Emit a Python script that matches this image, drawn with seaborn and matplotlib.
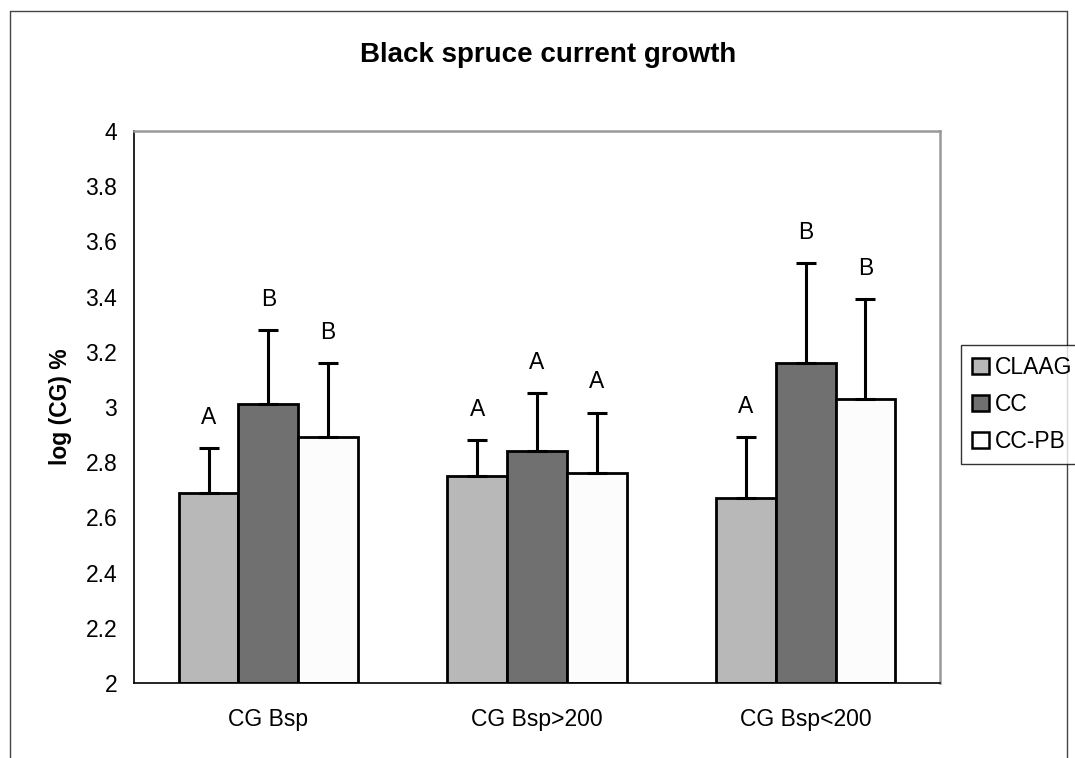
import matplotlib
matplotlib.use("Agg")
import matplotlib.pyplot as plt
import seaborn as sns
import pandas as pd
from matplotlib.lines import Line2D
from matplotlib.ticker import FixedLocator

# ---- data ----
categories = ["CG Bsp", "CG Bsp>200", "CG Bsp<200"]
treatments = ["CLAAG", "CC", "CC-PB"]
claag_mean = [2.69, 2.75, 2.67]
cc_mean = [3.01, 2.84, 3.16]
ccpb_mean = [2.89, 2.76, 3.03]
claag_err = [0.16, 0.13, 0.22]
cc_err = [0.27, 0.21, 0.36]
ccpb_err = [0.27, 0.22, 0.36]
claag_letters = ["A", "A", "A"]
cc_letters = ["B", "A", "B"]
ccpb_letters = ["B", "A", "B"]
y_ticks = [2, 2.2, 2.4, 2.6, 2.8, 3, 3.2, 3.4, 3.6, 3.8, 4]

means = [claag_mean, cc_mean, ccpb_mean]
errs = [claag_err, cc_err, ccpb_err]
letters = [claag_letters, cc_letters, ccpb_letters]

rows = []
for t, m in zip(treatments, means):
    for c, v in zip(categories, m):
        rows.append({"category": c, "treatment": t, "value": v})
df = pd.DataFrame(rows)

palette = {"CLAAG": "#b8b8b8", "CC": "#707070", "CC-PB": "#fcfcfc"}

sns.set_style("white")
plt.rcParams["font.family"] = ["Liberation Sans", "DejaVu Sans"]
for key in ["text.color", "axes.labelcolor", "xtick.color", "ytick.color"]:
    plt.rcParams[key] = "black"

FS = 16.5

fig = plt.figure(figsize=(10.75, 7.58), dpi=100)
ax = fig.add_axes([134 / 1075, 75 / 758, (940 - 134) / 1075, (683 - 131) / 758])

sns.barplot(data=df, x="category", y="value", hue="treatment",
            order=categories, hue_order=treatments, palette=palette,
            width=0.667, errorbar=None, edgecolor="black", linewidth=2.0,
            saturation=1, ax=ax, legend=False)

# the value axis starts at 2, so bars rise from that floor
for container in ax.containers:
    for bar in container:
        top = bar.get_height()
        bar.set_y(2)
        bar.set_height(top - 2)

# upper error bars and significance letters
for container, err, labs, m in zip(ax.containers, errs, letters, means):
    xs = [b.get_x() + b.get_width() / 2 for b in container]
    ax.errorbar(xs, m, yerr=[[0] * len(err), err], fmt="none",
                ecolor="black", elinewidth=2.2, capsize=7, capthick=2.2, zorder=5)
    for x, v, e, lab in zip(xs, m, err, labs):
        ax.annotate(lab, (x, v + e), xytext=(0, 22), textcoords="offset points",
                    ha="center", va="center", fontsize=FS)

ax.set_ylim(2, 4)
ax.set_xlim(-0.5, 2.5)
ax.set_yticks(y_ticks)
ax.set_yticklabels([f"{v:g}" for v in y_ticks])
ax.xaxis.set_minor_locator(FixedLocator([-0.5, 0.5, 1.5, 2.5]))
ax.tick_params(axis="x", which="major", length=0, pad=18, labelsize=FS)
ax.tick_params(axis="x", which="minor", length=7, width=1, color="black", direction="out")
ax.tick_params(axis="y", which="major", length=7, width=1, color="black",
               direction="out", labelsize=FS, pad=5)
ax.set_xlabel("")
ax.set_ylabel("log (CG) %", fontsize=FS, fontweight="bold", labelpad=10)

for side in ["left", "bottom"]:
    ax.spines[side].set_color("black")
    ax.spines[side].set_linewidth(1.2)
for side in ["top", "right"]:
    ax.spines[side].set_visible(True)
    ax.spines[side].set_color("#999999")
    ax.spines[side].set_linewidth(1.8)

fig.text(548 / 1075, 1 - 55 / 758, "Black spruce current growth",
         ha="center", va="center", fontsize=20, fontweight="bold")

handles = [plt.Rectangle((0, 0), 1, 1, facecolor=palette[t], edgecolor="black", linewidth=1.8)
           for t in treatments]
leg = fig.legend(handles, treatments, loc="upper left",
                 bbox_to_anchor=(961 / 1075, 1 - 345 / 758),
                 fontsize=FS, frameon=True, fancybox=False,
                 handlelength=0.7, handleheight=0.7, handletextpad=0.3,
                 labelspacing=0.6, borderpad=0.5, borderaxespad=0)
leg.get_frame().set_edgecolor("black")
leg.get_frame().set_linewidth(1.0)

# outer chart border
W, H = 1075, 758
for (x0, y0, x1, y1) in [(10, 11, 1067, 11), (10, 11, 10, 760), (1067, 11, 1067, 760)]:
    fig.add_artist(Line2D([x0 / W, x1 / W], [1 - y0 / H, 1 - y1 / H],
                          color="#444444", linewidth=1.0, transform=fig.transFigure))

fig.savefig("out.png", dpi=100)
